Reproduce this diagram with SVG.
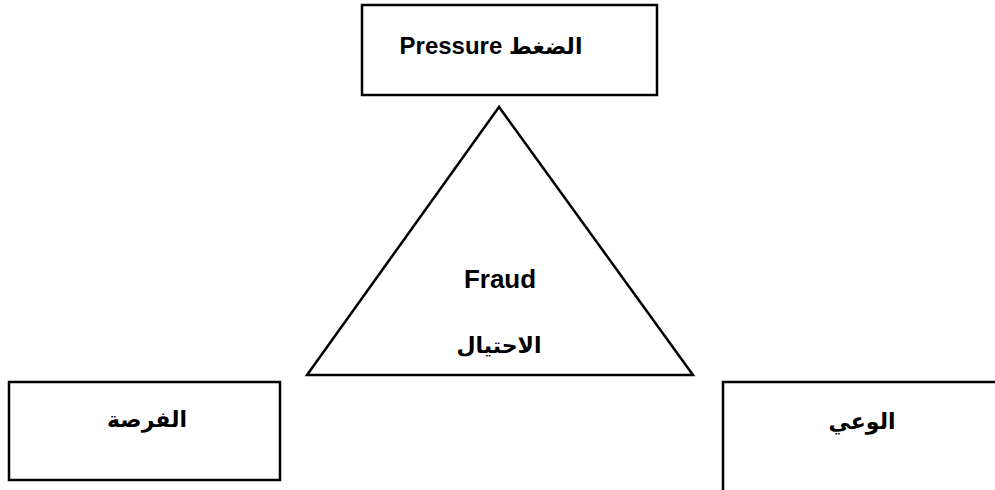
<svg xmlns="http://www.w3.org/2000/svg" width="995" height="490" viewBox="0 0 995 490">
<style>
.box{fill:#fff;stroke:#000;stroke-width:2.5}
.t{font-family:"Liberation Sans","DejaVu Sans",sans-serif;font-weight:bold;font-size:26px;fill:#000;text-anchor:middle}
.ar{font-family:"DejaVu Sans","Liberation Sans",sans-serif;font-weight:bold;font-size:22px;fill:#000;text-anchor:middle}
.sm{font-size:24px}
</style>
<rect width="995" height="490" fill="#fff"/>
<g id="pressure"><rect class="box" x="362" y="5" width="295" height="90"/><text class="t sm" x="491" y="54" direction="rtl"><tspan style="font-family:'DejaVu Sans',sans-serif;font-size:22px">الضغط</tspan> Pressure</text></g>
<g id="fraud"><polygon class="box" points="499,107 307,375 693,375"/><text class="t" x="500" y="288">Fraud</text><text class="ar" x="499" y="353">الاحتيال</text></g>
<g id="opportunity"><rect class="box" x="9" y="382" width="271" height="98"/><text class="ar" x="147" y="427">الفرصة</text></g>
<g id="awareness"><path class="box" d="M723,490 V382 H995" fill="none"/><text class="ar" x="862" y="429">الوعي</text></g>
<g id="connectors"></g>
</svg>
